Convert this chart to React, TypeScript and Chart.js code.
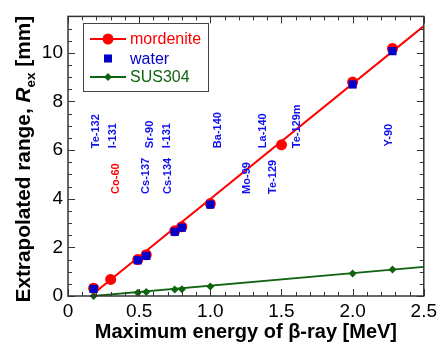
import React, { useEffect, useRef } from "react";
import { Chart, registerables } from "chart.js";
Chart.register(...registerables);

// ---- data ----
const mordeniteX = [0.18, 0.3, 0.49, 0.55, 0.75, 0.8, 1.0, 1.5, 2.0, 2.28];
const mordeniteY = [0.32, 0.68, 1.5, 1.7, 2.68, 2.85, 3.8, 6.22, 8.8, 10.18];
const waterX = [0.18, 0.49, 0.55, 0.75, 0.8, 1.0, 2.0, 2.28];
const waterY = [0.29, 1.47, 1.65, 2.64, 2.81, 3.76, 8.7, 10.07];
const susX = [0.18, 0.49, 0.55, 0.75, 0.8, 1.0, 2.0, 2.28];
const susY = [0.0, 0.13, 0.16, 0.27, 0.28, 0.39, 0.93, 1.09];
const mordeniteFitX = [0.18, 2.5];
const mordeniteFitY = [0.1, 11.1];
const susFitX = [0.18, 2.5];
const susFitY = [0.0, 1.2];

const xTicks = [0, 0.5, 1.0, 1.5, 2.0, 2.5];
const xTickLabels = ["0", "0.5", "1.0", "1.5", "2.0", "2.5"];
const yTicks = [0, 2, 4, 6, 8, 10];
const yTickLabels = ["0", "2", "4", "6", "8", "10"];

const nuclideNames = ["Te-132", "I-131", "Sr-90", "I-131", "Ba-140", "La-140", "Te-129m", "Y-90",
  "Co-60", "Cs-137", "Cs-134", "Mo-99", "Te-129"];
const nuclideX = [0.2, 0.315, 0.574, 0.697, 1.056, 1.368, 1.606, 2.257,
  0.338, 0.551, 0.703, 1.259, 1.4375];
const nuclideY = [6.08, 6.08, 6.08, 6.08, 6.08, 6.08, 6.08, 6.15,
  4.2, 4.2, 4.2, 4.2, 4.2];
const nuclideColors = ["#1010f0", "#1010f0", "#1010f0", "#1010f0", "#1010f0", "#1010f0", "#1010f0", "#1010f0",
  "#ff0000", "#1010f0", "#1010f0", "#1010f0", "#1010f0"];

const RED = "#ff0000";
const BLUE = "#0000c8";
const GREEN = "#0f640f";
const FONT = "'Liberation Sans', Arial, sans-serif";

const toPts = (xs: number[], ys: number[]) => xs.map((x, i) => ({ x, y: ys[i] }));

function drawMarker(ctx: CanvasRenderingContext2D, style: string, r: number, x: number, y: number, color: string) {
  ctx.save();
  ctx.fillStyle = color;
  ctx.beginPath();
  if (style === "circle") {
    ctx.arc(x, y, r, 0, Math.PI * 2);
  } else if (style === "rect") {
    const s = Math.SQRT1_2 * r;
    ctx.rect(x - s, y - s, 2 * s, 2 * s);
  } else {
    ctx.moveTo(x, y - r); ctx.lineTo(x + r, y); ctx.lineTo(x, y + r); ctx.lineTo(x - r, y); ctx.closePath();
  }
  ctx.fill();
  ctx.restore();
}

const decorPlugin = {
  id: "decor",
  afterDatasetsDraw(chart: any) {
    const ctx = chart.ctx;
    const xs = chart.scales.x;
    const ys = chart.scales.y;
    ctx.save();
    ctx.font = `bold 11px ${FONT}`;
    ctx.textBaseline = "middle";
    ctx.textAlign = "left";
    nuclideNames.forEach((n, i) => {
      const px = xs.getPixelForValue(nuclideX[i]);
      const py = ys.getPixelForValue(nuclideY[i]);
      ctx.save();
      ctx.translate(px, py);
      ctx.rotate(-Math.PI / 2);
      ctx.fillStyle = nuclideColors[i];
      ctx.fillText(n, 0, 0);
      ctx.restore();
    });
    ctx.restore();
  },
  afterDraw(chart: any) {
    const ctx = chart.ctx;
    const { left, right, top, bottom } = chart.chartArea;
    const xs = chart.scales.x;
    const ys = chart.scales.y;
    ctx.save();
    // frame
    ctx.strokeStyle = "#333";
    ctx.lineWidth = 1.5;
    ctx.strokeRect(left, top, right - left, bottom - top);
    // inward ticks
    ctx.lineWidth = 1;
    ctx.beginPath();
    for (let i = 0; i <= 25; i++) {
      const v = i / 10;
      const len = i % 5 === 0 ? 7 : 4;
      const p = Math.round(xs.getPixelForValue(v)) + 0.5;
      ctx.moveTo(p, bottom); ctx.lineTo(p, bottom - len);
      ctx.moveTo(p, top); ctx.lineTo(p, top + len);
    }
    for (let i = 0; i <= 23; i++) {
      const v = i / 2;
      const len = i % 4 === 0 ? 7 : 4;
      const p = Math.round(ys.getPixelForValue(v)) + 0.5;
      ctx.moveTo(left, p); ctx.lineTo(left + len, p);
      ctx.moveTo(right, p); ctx.lineTo(right - len, p);
    }
    ctx.stroke();

    // y title
    const cy = (top + bottom) / 2 + 3;
    ctx.save();
    ctx.translate(30, cy);
    ctx.rotate(-Math.PI / 2);
    ctx.fillStyle = "#000";
    ctx.textBaseline = "alphabetic";
    ctx.textAlign = "left";
    const f1 = `bold 20.8px ${FONT}`;
    const f2 = `italic bold 20.8px ${FONT}`;
    const f3 = `bold 13.5px ${FONT}`;
    const parts: [string, string, number][] = [
      ["Extrapolated range, ", f1, 0],
      ["R", f2, 0],
      ["ex", f3, 5],
      [" [mm]", f1, 0],
    ];
    let total = 0;
    parts.forEach(([t, f]) => { ctx.font = f; total += ctx.measureText(t).width; });
    let x = -total / 2;
    parts.forEach(([t, f, dy]) => {
      ctx.font = f;
      ctx.fillText(t, x, dy);
      x += ctx.measureText(t).width;
    });
    ctx.restore();

    // legend
    const lx = 83, ly = 23, lw = 125, lh = 68;
    ctx.fillStyle = "#fff";
    ctx.fillRect(lx, ly, lw, lh);
    ctx.strokeStyle = "#444";
    ctx.lineWidth = 1;
    ctx.strokeRect(lx + 0.5, ly + 0.5, lw, lh);
    const rows = [
      { label: "mordenite", color: RED, line: true, style: "circle", r: 5.5, y: 39 },
      { label: "water", color: BLUE, line: false, style: "rect", r: 5.7, y: 58.5 },
      { label: "SUS304", color: GREEN, line: true, style: "rectRot", r: 4, y: 77 },
    ];
    rows.forEach((r) => {
      if (r.line) {
        ctx.strokeStyle = r.color;
        ctx.lineWidth = 2;
        ctx.beginPath();
        ctx.moveTo(90, r.y); ctx.lineTo(126, r.y);
        ctx.stroke();
      }
      drawMarker(ctx, r.style, r.r, 108, r.y, r.color);
      ctx.fillStyle = r.color;
      ctx.font = `16px ${FONT}`;
      ctx.textBaseline = "middle";
      ctx.textAlign = "left";
      ctx.fillText(r.label, 130, r.y + 1);
    });
    ctx.restore();
  },
};

export default function App() {
  const ref = useRef<HTMLCanvasElement>(null);
  useEffect(() => {
    if (!ref.current) return;
    const chart = new Chart(ref.current, {
      type: "scatter",
      data: {
        datasets: [
          {
            label: "water", data: toPts(waterX, waterY), pointStyle: "rect", pointRadius: 5.8,
            backgroundColor: BLUE, borderColor: BLUE, borderWidth: 0, showLine: false, order: 0, clip: false,
          } as any,
          {
            label: "mordenite", data: toPts(mordeniteX, mordeniteY), pointStyle: "circle", pointRadius: 5.5,
            backgroundColor: RED, borderColor: RED, borderWidth: 0, showLine: false, order: 1, clip: false,
          },
          {
            label: "SUS304", data: toPts(susX, susY), pointStyle: "rectRot", pointRadius: 4,
            backgroundColor: GREEN, borderColor: GREEN, borderWidth: 0, showLine: false, order: 1, clip: false,
          },
          {
            label: "mordenite fit", data: toPts(mordeniteFitX, mordeniteFitY), showLine: true, pointRadius: 0,
            borderColor: RED, borderWidth: 2, order: 2,
          },
          {
            label: "SUS304 fit", data: toPts(susFitX, susFitY), showLine: true, pointRadius: 0,
            borderColor: GREEN, borderWidth: 1.8, order: 3,
          },
        ],
      },
      options: {
        animation: false,
        responsive: false,
        maintainAspectRatio: false,
        layout: { padding: { left: 0, right: 13, top: 9, bottom: 0 } },
        plugins: { legend: { display: false }, tooltip: { enabled: false } },
        scales: {
          x: {
            type: "linear", min: 0, max: 2.5,
            grid: { display: false, drawTicks: false },
            border: { display: false },
            afterBuildTicks: (s: any) => { s.ticks = xTicks.map((v) => ({ value: v })); },
            afterFit: (s: any) => { s.height = 48; },
            ticks: {
              padding: 4, color: "#000", font: { family: FONT, size: 19 },
              callback: (v: any) => { const i = xTicks.indexOf(Number(v)); return i >= 0 ? xTickLabels[i] : ""; },
              maxRotation: 0, autoSkip: false,
            },
            title: {
              display: true, text: "Maximum energy of β-ray [MeV]", color: "#000",
              font: { family: FONT, size: 20, weight: "bold" }, padding: { top: 0, bottom: 0 },
            },
          },
          y: {
            type: "linear", min: 0, max: 11.5,
            grid: { display: false, drawTicks: false },
            border: { display: false },
            afterBuildTicks: (s: any) => { s.ticks = yTicks.map((v) => ({ value: v })); },
            afterFit: (s: any) => { s.width = 68; },
            ticks: {
              padding: 5, color: "#000", font: { family: FONT, size: 19 },
              callback: (v: any) => { const i = yTicks.indexOf(Number(v)); return i >= 0 ? yTickLabels[i] : ""; },
              autoSkip: false,
            },
          },
        },
      },
      plugins: [decorPlugin],
    } as any);
    return () => chart.destroy();
  }, []);
  return (
    <div style={{ position: "absolute", left: 0, top: 0, width: 441, height: 344, background: "#fff" }}>
      <canvas ref={ref} width={441} height={344} style={{ width: 441, height: 344, display: "block" }} />
    </div>
  );
}
